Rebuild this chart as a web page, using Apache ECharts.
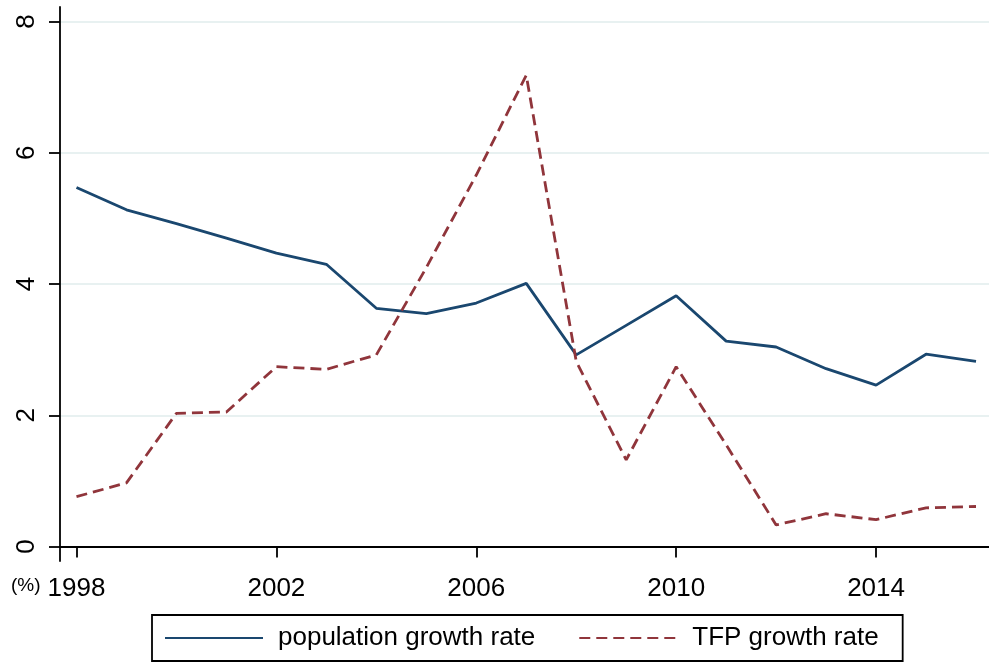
<!DOCTYPE html>
<html>
<head>
<meta charset="utf-8">
<script src="https://cdn.jsdelivr.net/npm/echarts@6/dist/echarts.min.js"></script>
<style>
  html, body { margin: 0; padding: 0; background: #fff; }
  #chart { width: 989px; height: 667px; }
</style>
</head>
<body>
<div id="chart"></div>
<script>
// Annual series, 1998-2016 (%)
const years = [1998, 1999, 2000, 2001, 2002, 2003, 2004, 2005, 2006, 2007,
               2008, 2009, 2010, 2011, 2012, 2013, 2014, 2015, 2016];
const populationGrowth = [5.47, 5.13, 4.92, 4.70, 4.47, 4.30, 3.63, 3.55, 3.71, 4.01,
                          2.92, 3.37, 3.82, 3.13, 3.04, 2.71, 2.46, 2.93, 2.82];
const tfpGrowth = [0.76, 0.97, 2.03, 2.05, 2.74, 2.70, 2.92, 4.25, 5.66, 7.18,
                   2.82, 1.32, 2.74, 1.55, 0.33, 0.50, 0.41, 0.59, 0.61];
const xTicks = [1998, 2002, 2006, 2010, 2014];
const yTicks = [0, 2, 4, 6, 8];

const FONT = 'Liberation Sans, Arial, sans-serif';
const pairs = (xs, ys) => xs.map((x, i) => [x, ys[i]]);

const chart = echarts.init(document.getElementById('chart'), null, { renderer: 'canvas' });
chart.setOption({
  backgroundColor: '#ffffff',
  animation: false,
  grid: { left: 60, right: 0, top: 7, bottom: 106, containLabel: false },
  xAxis: {
    type: 'value',
    min: 1997.67,
    max: 2016.26,
    axisLine: { show: true, lineStyle: { color: '#000', width: 1.8 } },
    axisTick: { show: true, customValues: xTicks, length: 11, lineStyle: { color: '#000', width: 1.8 } },
    axisLabel: {
      customValues: xTicks, margin: 15, fontSize: 26, color: '#000', fontFamily: FONT,
      formatter: v => String(v)
    },
    splitLine: { show: false }
  },
  yAxis: {
    type: 'value',
    min: -0.22,
    max: 8.22,
    axisLine: { show: true, lineStyle: { color: '#000', width: 1.8 } },
    axisTick: { show: true, customValues: yTicks, length: 11, lineStyle: { color: '#000', width: 1.8 } },
    axisLabel: { customValues: yTicks, rotate: 90, margin: 20, fontSize: 26, color: '#000', fontFamily: FONT },
    splitLine: { show: true, lineStyle: { color: '#e8f1f1', width: 2 } }
  },
  legend: {
    left: 152,
    top: 615,
    orient: 'horizontal',
    itemWidth: 98,
    itemHeight: 14,
    itemGap: 43,
    padding: [10, 24, 10, 12],
    borderColor: '#000',
    borderWidth: 1.8,
    itemStyle: { opacity: 0 },
    textStyle: { fontSize: 26, color: '#000', fontFamily: FONT, padding: [0, 0, 0, 10] },
    data: ['population growth rate', 'TFP growth rate']
  },
  graphic: [{
    type: 'text',
    left: 11,
    top: 576,
    style: { text: '(%)', fontSize: 19, fill: '#000', fontFamily: FONT }
  }],
  series: [
    {
      name: 'population growth rate',
      type: 'line',
      symbol: 'none',
      data: pairs(years, populationGrowth),
      lineStyle: { color: '#1a476f', width: 2.8 },
      itemStyle: { color: '#1a476f' }
    },
    {
      name: 'TFP growth rate',
      type: 'line',
      symbol: 'none',
      data: pairs(years, tfpGrowth),
      lineStyle: { color: '#90353b', width: 2.8, type: [11, 6] },
      itemStyle: { color: '#90353b' }
    }
  ]
});
</script>
</body>
</html>
